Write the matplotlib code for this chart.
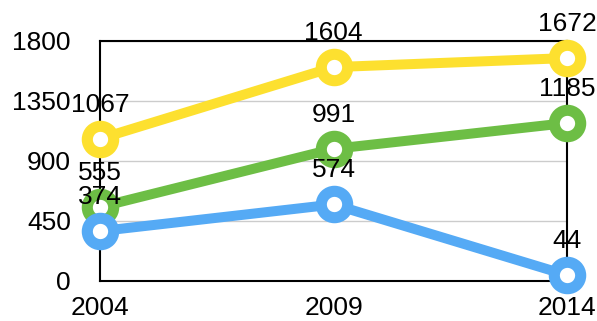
import matplotlib.pyplot as plt

plt.rcParams['font.family'] = ['Liberation Sans', 'DejaVu Sans']

years = ["2004", "2009", "2014"]
yellow = [1067, 1604, 1672]
green = [555, 991, 1185]
blue = [374, 574, 44]
yticks = [0, 450, 900, 1350, 1800]

fig = plt.figure(figsize=(5.97, 3.21), dpi=100)
ax = fig.add_axes([100/597, 40/321, 467/597, 240/321])

x = range(len(years))
series = [(yellow, "#fde02f"), (green, "#6dbe45"), (blue, "#55aaf5")]
for vals, col in series:
    ax.plot(x, vals, color=col, lw=7.2, marker="o", ms=19, mew=8,
            mfc="white", mec=col, clip_on=False, zorder=3)
for vals, col in series:
    for i, v in enumerate(vals):
        ax.annotate(str(v), (i, v), xytext=(0, 16), textcoords="offset points",
                    ha="center", va="bottom", fontsize=19, zorder=5,
                    annotation_clip=False)

ax.set_xlim(0, len(years) - 1)
ax.set_ylim(0, 1800)
ax.set_xticks(list(x))
ax.set_xticklabels(years)
ax.set_yticks(yticks)
ax.set_yticklabels([str(t) for t in yticks])
ax.tick_params(length=0, labelsize=19)
ax.tick_params(axis="y", pad=21)
ax.tick_params(axis="x", pad=11)
ax.grid(axis="y", color="#cccccc", lw=1)
ax.set_axisbelow(True)
for s in ax.spines.values():
    s.set_linewidth(1.5)
    s.set_color("black")

fig.savefig("out.png", dpi=100)
